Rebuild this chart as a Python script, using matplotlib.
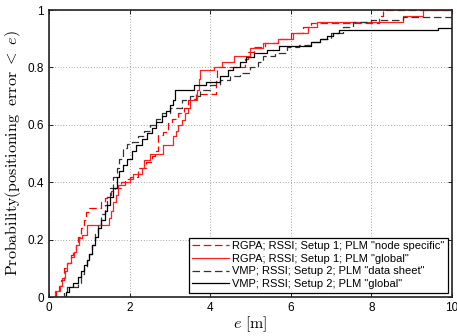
import numpy as np
import matplotlib
matplotlib.use("Agg")
import matplotlib.pyplot as plt

rgpa_node_x = [0.12, 0.18, 0.25, 0.30, 0.37, 0.45, 0.55, 0.60, 0.67, 0.72, 0.80, 0.87, 0.92,
               0.99, 1.29, 1.38, 1.44, 1.55, 1.64, 1.80, 1.90, 2.00, 2.20, 2.40, 2.55, 2.63,
               2.70, 2.83, 2.95, 3.05, 3.20, 3.35, 3.45, 3.55, 3.65, 4.15, 4.18, 4.86, 4.94,
               5.10, 5.36, 5.68, 6.00, 6.30, 6.50, 8.20, 8.30, 10.0]
rgpa_node_y = [0.0, 0.02, 0.04, 0.06, 0.10, 0.12, 0.146, 0.16, 0.18, 0.21, 0.24, 0.27, 0.296,
               0.31, 0.33, 0.345, 0.355, 0.37, 0.38, 0.40, 0.41, 0.42, 0.45, 0.47, 0.49, 0.51,
               0.564, 0.575, 0.605, 0.62, 0.64, 0.66, 0.686, 0.69, 0.707, 0.76, 0.80, 0.83, 0.855,
               0.87, 0.885, 0.90, 0.92, 0.94, 0.955, 0.98, 1.0, 1.0]

rgpa_glob_x = [0.12, 0.15, 0.27, 0.32, 0.40, 0.45, 0.55, 0.62, 0.68, 0.74, 0.83, 0.95, 1.49,
               1.55, 1.60, 1.66, 1.71, 1.89, 2.00, 2.09, 2.30, 2.36, 2.50, 2.83, 3.08, 3.15,
               3.20, 3.30, 3.38, 3.45, 3.50, 3.68, 3.72, 3.75, 4.10, 4.30, 4.60, 5.00, 5.30,
               5.68, 6.05, 6.42, 6.64, 8.78, 9.28, 10.0]
rgpa_glob_y = [0.0, 0.02, 0.04, 0.066, 0.09, 0.12, 0.14, 0.157, 0.18, 0.205, 0.216, 0.25, 0.275,
               0.30, 0.33, 0.355, 0.39, 0.40, 0.41, 0.43, 0.45, 0.477, 0.50, 0.53, 0.56, 0.58,
               0.60, 0.617, 0.64, 0.66, 0.686, 0.72, 0.76, 0.79, 0.80, 0.82, 0.84, 0.867, 0.885,
               0.90, 0.92, 0.94, 0.958, 0.98, 1.0, 1.0]

vmp_ds_x = [0.30, 0.38, 0.45, 0.72, 0.80, 0.88, 0.95, 1.00, 1.08, 1.15, 1.22, 1.30, 1.38,
            1.45, 1.52, 1.60, 1.68, 1.75, 1.85, 1.93, 2.05, 2.20, 2.35, 2.50, 2.65, 2.80,
            3.00, 3.30, 3.50, 3.75, 4.00, 4.25, 4.49, 4.74, 5.00, 5.20, 5.30, 5.60, 5.90,
            6.20, 6.50, 6.72, 7.00, 7.30, 7.55, 8.00, 8.78, 10.0]
vmp_ds_y = [0.0, 0.017, 0.035, 0.05, 0.08, 0.10, 0.13, 0.15, 0.18, 0.22, 0.25, 0.29, 0.32,
            0.35, 0.38, 0.42, 0.45, 0.48, 0.52, 0.535, 0.54, 0.56, 0.58, 0.60, 0.62, 0.64,
            0.66, 0.686, 0.70, 0.72, 0.74, 0.755, 0.77, 0.78, 0.80, 0.82, 0.84, 0.85, 0.87,
            0.88, 0.89, 0.90, 0.92, 0.94, 0.958, 0.965, 0.975, 0.975]

vmp_glob_x = [0.35, 0.42, 0.50, 0.60, 0.72, 0.80, 0.88, 0.95, 1.00, 1.08, 1.15, 1.22, 1.30,
              1.38, 1.45, 1.52, 1.60, 1.68, 1.75, 1.85, 1.93, 2.05, 2.15, 2.30, 2.43, 2.55,
              2.65, 2.80, 2.90, 3.00, 3.08, 3.12, 3.60, 3.90, 4.24, 4.45, 4.57, 4.75, 4.90,
              5.10, 5.40, 5.70, 6.50, 6.72, 6.90, 7.05, 7.20, 9.65, 10.0]
vmp_glob_y = [0.0, 0.017, 0.035, 0.05, 0.07, 0.09, 0.11, 0.13, 0.15, 0.18, 0.21, 0.24, 0.27,
              0.30, 0.32, 0.35, 0.38, 0.42, 0.44, 0.46, 0.48, 0.51, 0.53, 0.55, 0.57, 0.59,
              0.61, 0.63, 0.65, 0.67, 0.686, 0.72, 0.74, 0.75, 0.77, 0.79, 0.80, 0.82, 0.836,
              0.85, 0.86, 0.875, 0.89, 0.90, 0.91, 0.92, 0.93, 0.937, 0.937]

labels = ['RGPA; RSSI; Setup 1; PLM "node specific"',
          'RGPA; RSSI; Setup 1; PLM "global"',
          'VMP; RSSI; Setup 2; PLM "data sheet"',
          'VMP; RSSI; Setup 2; PLM "global"']

x_ticks = [0, 2, 4, 6, 8, 10]
x_ticklabels = ['0', '2', '4', '6', '8', '10']
y_ticks = [0, 0.2, 0.4, 0.6, 0.8, 1.0]
y_ticklabels = ['0', '0.2', '0.4', '0.6', '0.8', '1']

plt.rcParams['mathtext.fontset'] = 'cm'
plt.rcParams['font.family'] = ['Liberation Sans', 'DejaVu Sans']

fig = plt.figure(figsize=(4.57, 3.36), dpi=100)
ax = fig.add_axes([0.107, 0.116, 0.882, 0.854])

ax.plot(rgpa_node_x, rgpa_node_y, drawstyle='steps-post', color='#ff0000', lw=0.9,
        dashes=(6, 3), label=labels[0])
ax.plot(rgpa_glob_x, rgpa_glob_y, drawstyle='steps-post', color='#ff2020', lw=0.9,
        label=labels[1])
ax.plot(vmp_ds_x, vmp_ds_y, drawstyle='steps-post', color='#333333', lw=0.9,
        dashes=(6, 3), label=labels[2])
ax.plot(vmp_glob_x, vmp_glob_y, drawstyle='steps-post', color='#000000', lw=0.9,
        label=labels[3])

ax.set_xlim(0, 10)
ax.set_ylim(0, 1)
ax.set_xticks(x_ticks)
ax.set_xticklabels(x_ticklabels)
ax.set_yticks(y_ticks)
ax.set_yticklabels(y_ticklabels)
ax.tick_params(direction='in', labelsize=8.5, length=3, width=0.6, top=True, right=True)
ax.grid(True, color='#555555', linestyle=(0, (1, 3)), linewidth=0.5)
for s in ax.spines.values():
    s.set_linewidth(1.2)
    s.set_color('#222222')

ax.set_xlabel(r'$e\ [\mathrm{m}]$', fontsize=11.5, labelpad=0)
ax.set_ylabel(r'$\mathrm{Probability(positioning\ \ error}\ <\ e)$', fontsize=11.5, labelpad=3)

leg = ax.legend(loc='lower right', fontsize=8, fancybox=False, framealpha=1,
                edgecolor='black', borderaxespad=0.4, handlelength=3.3,
                handletextpad=0.3, labelspacing=0.25, borderpad=0.3)
leg.get_frame().set_linewidth(0.9)

plt.savefig("out.png", dpi=100)
